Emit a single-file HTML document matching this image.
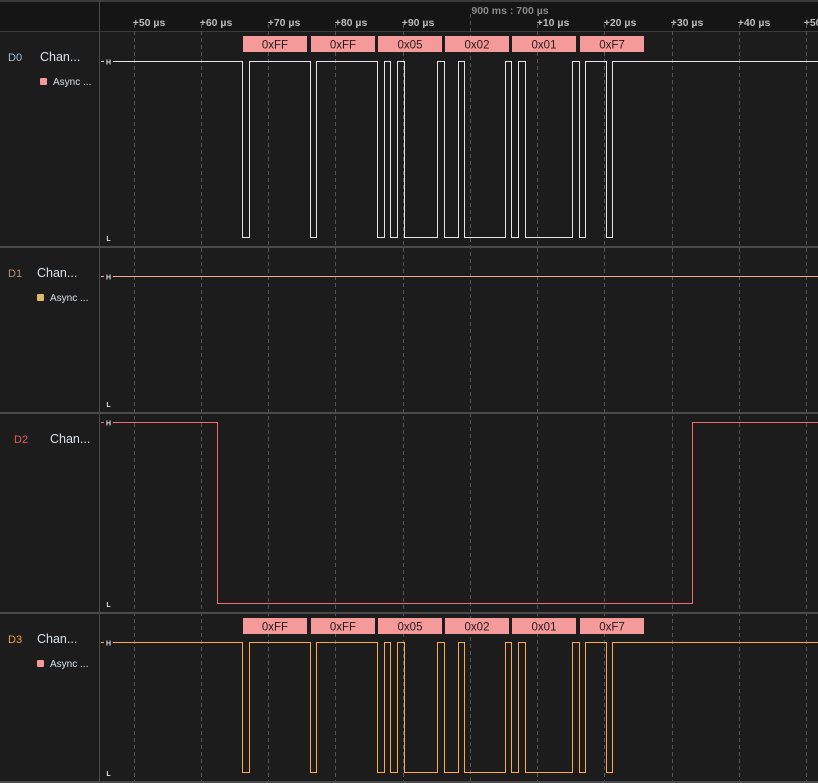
<!DOCTYPE html>
<html><head><meta charset="utf-8"><style>
html,body{margin:0;padding:0;background:#1c1c1c;width:818px;height:783px;overflow:hidden}
svg{display:block}
text{font-family:"Liberation Sans",sans-serif}
</style></head><body>
<svg width="818" height="783" viewBox="0 0 818 783" xmlns="http://www.w3.org/2000/svg">
<rect width="818" height="783" fill="#1c1c1c"/>
<!-- header -->
<rect x="0" y="0" width="818" height="31" fill="#151515"/>
<rect x="0" y="0" width="818" height="2" fill="#3a3a3a"/>
<rect x="0" y="31" width="818" height="1" fill="#3a3a3a"/>
<text x="510" y="14" fill="#8a8a8a" font-size="10.5" font-weight="bold" text-anchor="middle">900 ms : 700 µs</text>
<g fill="#bbbbbb" font-size="10.5" font-weight="bold" text-anchor="middle">
<text x="149" y="26">+50 µs</text><text x="216" y="26">+60 µs</text><text x="284" y="26">+70 µs</text>
<text x="351" y="26">+80 µs</text><text x="418" y="26">+90 µs</text><text x="553" y="26">+10 µs</text>
<text x="620" y="26">+20 µs</text><text x="687" y="26">+30 µs</text><text x="754" y="26">+40 µs</text>
<text x="820" y="26">+50 µs</text>
</g>
<!-- grid -->
<g stroke="#555" stroke-width="1" stroke-dasharray="4,3">
<line x1="134.5" y1="24" x2="134.5" y2="783"/><line x1="201.5" y1="24" x2="201.5" y2="783"/>
<line x1="268.5" y1="24" x2="268.5" y2="783"/><line x1="335.5" y1="24" x2="335.5" y2="783"/>
<line x1="403.5" y1="24" x2="403.5" y2="783"/><line x1="470.5" y1="14" x2="470.5" y2="783"/>
<line x1="537.5" y1="24" x2="537.5" y2="783"/><line x1="604.5" y1="24" x2="604.5" y2="783"/>
<line x1="672.5" y1="24" x2="672.5" y2="783"/><line x1="739.5" y1="24" x2="739.5" y2="783"/>
<line x1="806.5" y1="24" x2="806.5" y2="783"/>
</g>
<!-- left border & separators -->
<rect x="99" y="0" width="1" height="783" fill="#4a4a4a"/>
<rect x="0" y="246" width="818" height="2" fill="#4a4a4a"/>
<rect x="0" y="412" width="818" height="2" fill="#4a4a4a"/>
<rect x="0" y="612" width="818" height="2" fill="#4a4a4a"/>
<rect x="0" y="781" width="818" height="2" fill="#4a4a4a"/>

<!-- left labels -->
<g font-size="12.5">
<text x="8" y="61" fill="#a9bfd0" font-size="11">D0</text>
<text x="40" y="61" fill="#d8e2ea">Chan...</text>
<rect x="40" y="78" width="7" height="7" rx="1" fill="#f49a9a"/>
<text x="53" y="85" fill="#d8e2ea" font-size="10">Async ...</text>

<text x="8" y="277" fill="#b89078" font-size="11">D1</text>
<text x="37" y="277" fill="#d8e2ea">Chan...</text>
<rect x="37" y="294" width="7" height="7" rx="1" fill="#d9b96f"/>
<text x="50" y="301" fill="#d8e2ea" font-size="10">Async ...</text>

<text x="14" y="443" fill="#e05a6a" font-size="11">D2</text>
<text x="50" y="443" fill="#d8e2ea">Chan...</text>

<text x="8" y="643" fill="#f0a040" font-size="11">D3</text>
<text x="37" y="643" fill="#d8e2ea">Chan...</text>
<rect x="37" y="660" width="7" height="7" rx="1" fill="#f49a9a"/>
<text x="50" y="667" fill="#d8e2ea" font-size="10">Async ...</text>
</g>

<!-- pills -->
<g fill="#f49a9a">
<rect x="243" y="36" width="64" height="16"/><rect x="311" y="36" width="64" height="16"/>
<rect x="378" y="36" width="64" height="16"/><rect x="445" y="36" width="64" height="16"/>
<rect x="512" y="36" width="64" height="16"/><rect x="580" y="36" width="64" height="16"/>
<rect x="243" y="618" width="64" height="16"/><rect x="311" y="618" width="64" height="16"/>
<rect x="378" y="618" width="64" height="16"/><rect x="445" y="618" width="64" height="16"/>
<rect x="512" y="618" width="64" height="16"/><rect x="580" y="618" width="64" height="16"/>
</g>
<g fill="#2a1a1a" font-size="11.5" text-anchor="middle">
<text x="275" y="48.5">0xFF</text><text x="343" y="48.5">0xFF</text><text x="410" y="48.5">0x05</text>
<text x="477" y="48.5">0x02</text><text x="544" y="48.5">0x01</text><text x="612" y="48.5">0xF7</text>
<text x="275" y="630.5">0xFF</text><text x="343" y="630.5">0xFF</text><text x="410" y="630.5">0x05</text>
<text x="477" y="630.5">0x02</text><text x="544" y="630.5">0x01</text><text x="612" y="630.5">0xF7</text>
</g>

<!-- waveforms -->
<defs>
<path id="uart" d="M101,0 H242.5 V1 H249.5 V0 H310.5 V1 H316.5 V0 H377.5 V1 H384.5 V0 H390.5 V1 H397.5 V0 H404.5 V1 H437.5 V0 H444.5 V1 H458.5 V0 H464.5 V1 H505.5 V0 H511.5 V1 H518.5 V0 H525.5 V1 H572.5 V0 H579.5 V1 H585.5 V0 H606.5 V1 H612.5 V0 H818"/>
</defs>
<path d="M101,61.5 H242.5 V237.5 H249.5 V61.5 H310.5 V237.5 H316.5 V61.5 H377.5 V237.5 H384.5 V61.5 H390.5 V237.5 H397.5 V61.5 H404.5 V237.5 H437.5 V61.5 H444.5 V237.5 H458.5 V61.5 H464.5 V237.5 H505.5 V61.5 H511.5 V237.5 H518.5 V61.5 H525.5 V237.5 H572.5 V61.5 H579.5 V237.5 H585.5 V61.5 H606.5 V237.5 H612.5 V61.5 H818" fill="none" stroke="#e6e6e6" stroke-width="1"/>
<path d="M101,276.5 H818" fill="none" stroke="#f0a890" stroke-width="1"/>
<path d="M101,422.5 H217.5 V603.5 H692.5 V422.5 H818" fill="none" stroke="#f06a7a" stroke-width="1"/>
<path d="M101,642.5 H242.5 V772.5 H249.5 V642.5 H310.5 V772.5 H316.5 V642.5 H377.5 V772.5 H384.5 V642.5 H390.5 V772.5 H397.5 V642.5 H404.5 V772.5 H437.5 V642.5 H444.5 V772.5 H458.5 V642.5 H464.5 V772.5 H505.5 V642.5 H511.5 V772.5 H518.5 V642.5 H525.5 V772.5 H572.5 V642.5 H579.5 V772.5 H585.5 V642.5 H606.5 V772.5 H612.5 V642.5 H818" fill="none" stroke="#ffaa48" stroke-width="1"/>

<!-- H/L markers -->
<g font-size="7" font-weight="bold" fill="#e0e0e0" text-anchor="middle">
<rect x="104" y="57" width="9" height="9" fill="#1c1c1c"/><text x="108.5" y="64.5">H</text>
<text x="108.5" y="241">L</text>
<rect x="104" y="272" width="9" height="9" fill="#1c1c1c"/><text x="108.5" y="279.5">H</text>
<text x="108.5" y="407">L</text>
<rect x="104" y="418" width="9" height="9" fill="#1c1c1c"/><text x="108.5" y="425.5">H</text>
<text x="108.5" y="607">L</text>
<rect x="104" y="638" width="9" height="9" fill="#1c1c1c"/><text x="108.5" y="645.5">H</text>
<text x="108.5" y="776">L</text>
</g>
</svg>
</body></html>
